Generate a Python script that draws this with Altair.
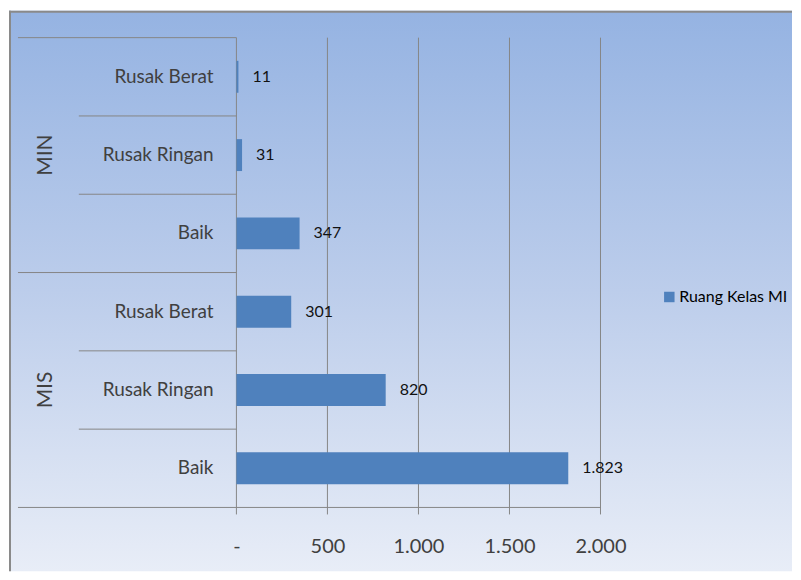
import altair as alt
import pandas as pd

# ---- data ----
groups = ["MIN", "MIN", "MIN", "MIS", "MIS", "MIS"]
kondisi = ["Rusak Berat", "Rusak Ringan", "Baik", "Rusak Berat", "Rusak Ringan", "Baik"]
values = [11, 31, 347, 301, 820, 1823]
tick_values = [0, 500, 1000, 1500, 2000]
series_name = "Ruang Kelas MI"

df = pd.DataFrame({"group": groups, "kondisi": kondisi, "value": values})
df["key"] = df["group"] + "|" + df["kondisi"]
df["pos"] = df.groupby("group").cumcount()
df["series"] = series_name
keys = list(df["key"])

grp = df[df["pos"] == 1][["group", "key"]]
ticks = pd.DataFrame({"t": tick_values})

W, H = 365, 471
FONT = "Lato"
GRAY = "#868686"
TXT = "#404040"

xscale = alt.Scale(domain=[0, 2000], nice=False, zero=True)
yscale = alt.Scale(domain=keys, paddingInner=0, paddingOuter=0)
xaxis = alt.Axis(
    values=tick_values, grid=False, ticks=False, domain=False, zindex=1,
    labelFlush=False, labelOverlap=False,
    labelExpr="datum.value == 0 ? '-' : replace(format(datum.value, ','), ',', '.')",
    labelFont=FONT, labelFontSize=20, labelColor=TXT, labelPadding=29,
)

one = pd.DataFrame({"a": [0]})

bg = alt.Chart(one).mark_rect(
    fill=alt.Gradient(
        gradient="linear",
        stops=[
            alt.GradientStop(color="#95B3E2", offset=0),
            alt.GradientStop(color="#BCCDEB", offset=0.5),
            alt.GradientStop(color="#E8EDF7", offset=1),
        ],
        x1=0, x2=0, y1=0, y2=1,
    ),
).encode(x=alt.value(-228), x2=alt.value(557), y=alt.value(-27), y2=alt.value(535))

border_left = alt.Chart(one).mark_rule(color="#8A8A8A", strokeWidth=2).encode(
    x=alt.value(-227), y=alt.value(-27), y2=alt.value(535)
)
border_top = alt.Chart(one).mark_rule(color="#8A8A8A", strokeWidth=2).encode(
    x=alt.value(-228), x2=alt.value(557), y=alt.value(-26)
)

grid = alt.Chart(ticks).mark_rule(color=GRAY, strokeWidth=1).encode(
    x=alt.X("t:Q", scale=xscale, axis=xaxis, title=None),
    y=alt.value(0), y2=alt.value(H + 7),
)

bottom = alt.Chart(one).mark_rule(color=GRAY, strokeWidth=1).encode(
    x=alt.value(-219), x2=alt.value(W), y=alt.value(H)
)

sep_outer = alt.Chart(df).transform_filter("datum.pos == 0").mark_rule(
    color=GRAY, strokeWidth=1
).encode(
    y=alt.Y("key:N", scale=yscale, axis=None, bandPosition=0),
    x=alt.value(-219), x2=alt.value(0),
)

sep_inner = alt.Chart(df).transform_filter("datum.pos > 0").mark_rule(
    color=GRAY, strokeWidth=1
).encode(
    y=alt.Y("key:N", scale=yscale, axis=None, bandPosition=0),
    x=alt.value(-158), x2=alt.value(0),
)

bars = alt.Chart(df).mark_bar(size=32).encode(
    x=alt.X("value:Q", scale=xscale, axis=xaxis, title=None),
    y=alt.Y("key:N", scale=yscale, axis=None),
    color=alt.Color(
        "series:N",
        scale=alt.Scale(range=["#4F81BD"]),
        legend=alt.Legend(
            title=None, orient="none", legendX=426, legendY=252,
            symbolType="square", symbolSize=110, symbolStrokeWidth=0,
            labelOffset=2,
            labelFont=FONT, labelFontSize=16, labelColor="#000000",
        ),
    ),
)

labels = alt.Chart(df).transform_calculate(
    lab="replace(format(datum.value, ','), ',', '.')"
).mark_text(align="left", baseline="middle", dx=14, font=FONT, fontSize=16, color="#111111").encode(
    x=alt.X("value:Q", scale=xscale, axis=xaxis, title=None),
    y=alt.Y("key:N", scale=yscale, axis=None),
    text="lab:N",
)

cat_labels = alt.Chart(df).mark_text(
    align="right", baseline="middle", font=FONT, fontSize=19, color=TXT
).encode(
    y=alt.Y("key:N", scale=yscale, axis=None),
    x=alt.value(-23),
    text="kondisi:N",
)

grp_labels = alt.Chart(grp).mark_text(
    align="center", baseline="middle", angle=270, font=FONT, fontSize=21, color=TXT
).encode(
    y=alt.Y("key:N", scale=yscale, axis=None),
    x=alt.value(-191),
    text="group:N",
)

chart = alt.layer(
    bg, border_left, border_top, grid, bottom, sep_outer, sep_inner, bars, labels, cat_labels, grp_labels
).properties(
    width=W, height=H, padding={"left": 0, "top": 1, "right": 0, "bottom": 0}
).configure_view(stroke=None)

chart.save("out.html", embed_options={"renderer": "svg", "actions": False})
